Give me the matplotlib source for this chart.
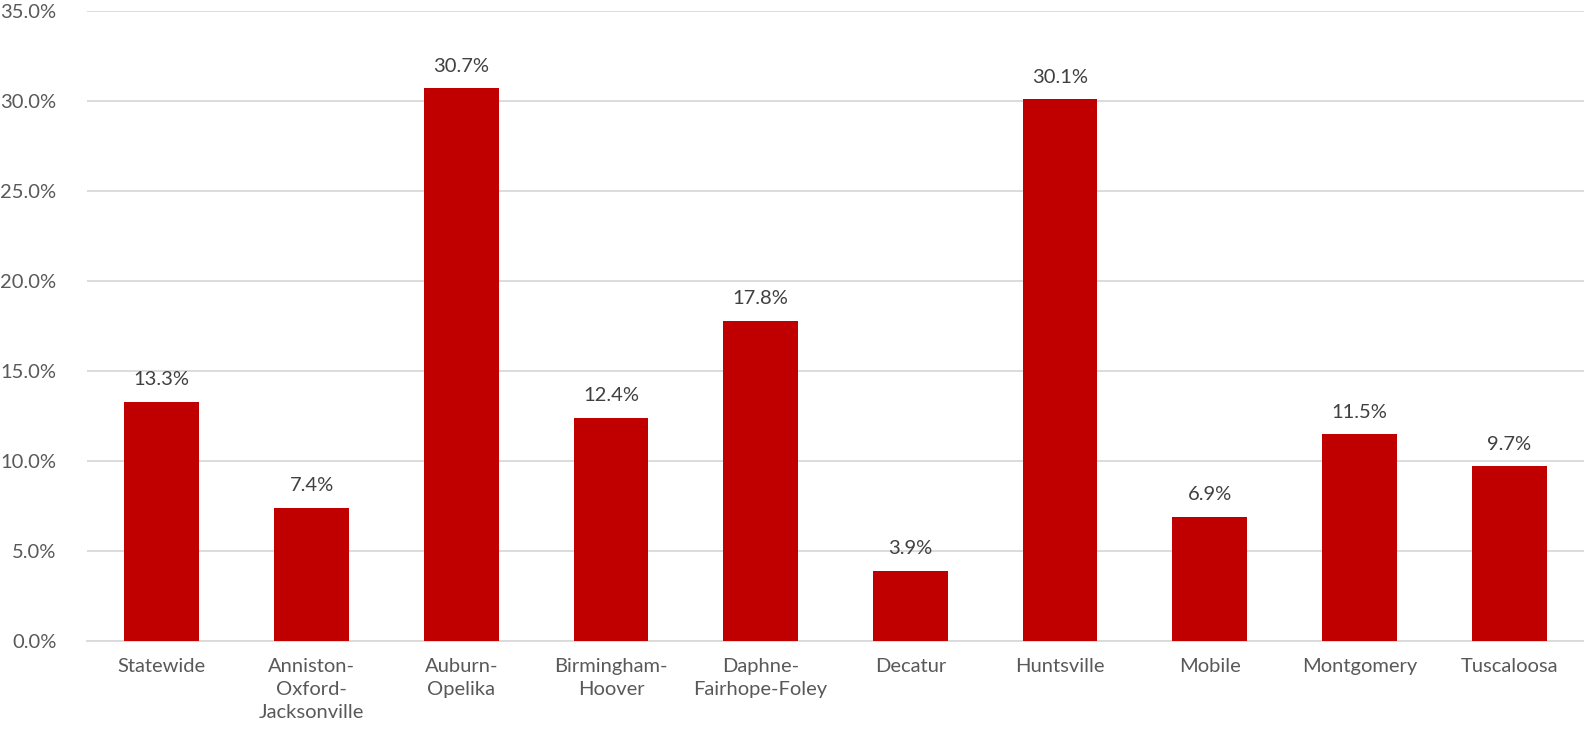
import matplotlib
matplotlib.use("Agg")
import matplotlib.pyplot as plt
from matplotlib.ticker import FuncFormatter, MultipleLocator

categories = ["Statewide", "Anniston-\nOxford-\nJacksonville", "Auburn-\nOpelika",
              "Birmingham-\nHoover", "Daphne-\nFairhope-Foley", "Decatur", "Huntsville",
              "Mobile", "Montgomery", "Tuscaloosa"]
values = [13.3, 7.4, 30.7, 12.4, 17.8, 3.9, 30.1, 6.9, 11.5, 9.7]

plt.rcParams['font.family'] = ['Lato', 'DejaVu Sans']
text_color = "#595959"

fig = plt.figure(figsize=(15.84, 7.45), dpi=100)
ax = fig.add_axes([87/1584, (745-641)/745, 1 - 87/1584, (641-11)/745])

x = list(range(len(categories)))
bars = ax.bar(x, values, width=0.5, color="#C00000", zorder=3)
for xi, v in zip(x, values):
    ax.text(xi, v + 0.75, f"{v:.1f}%", ha="center", va="bottom", fontsize=14.5, color="#404040")

ax.set_xlim(-0.5, len(categories) - 0.5)
ax.set_ylim(0, 35)
ax.yaxis.set_major_locator(MultipleLocator(5))
ax.yaxis.set_major_formatter(FuncFormatter(lambda v, p: f"{v:.1f}%"))
ax.grid(axis="y", color="#D9D9D9", linewidth=1.3, zorder=0)
ax.set_axisbelow(True)
for s in ["top", "right", "left"]:
    ax.spines[s].set_visible(False)
ax.spines["bottom"].set_color("#D9D9D9")
ax.spines["bottom"].set_linewidth(1.3)
ax.tick_params(axis="both", length=0, labelsize=14.5, colors=text_color)
ax.tick_params(axis="y", pad=22)
ax.tick_params(axis="x", pad=12)
ax.set_xticks(x)
ax.set_xticklabels(categories, linespacing=1.45, va="top")

fig.savefig("out.png", dpi=100)
